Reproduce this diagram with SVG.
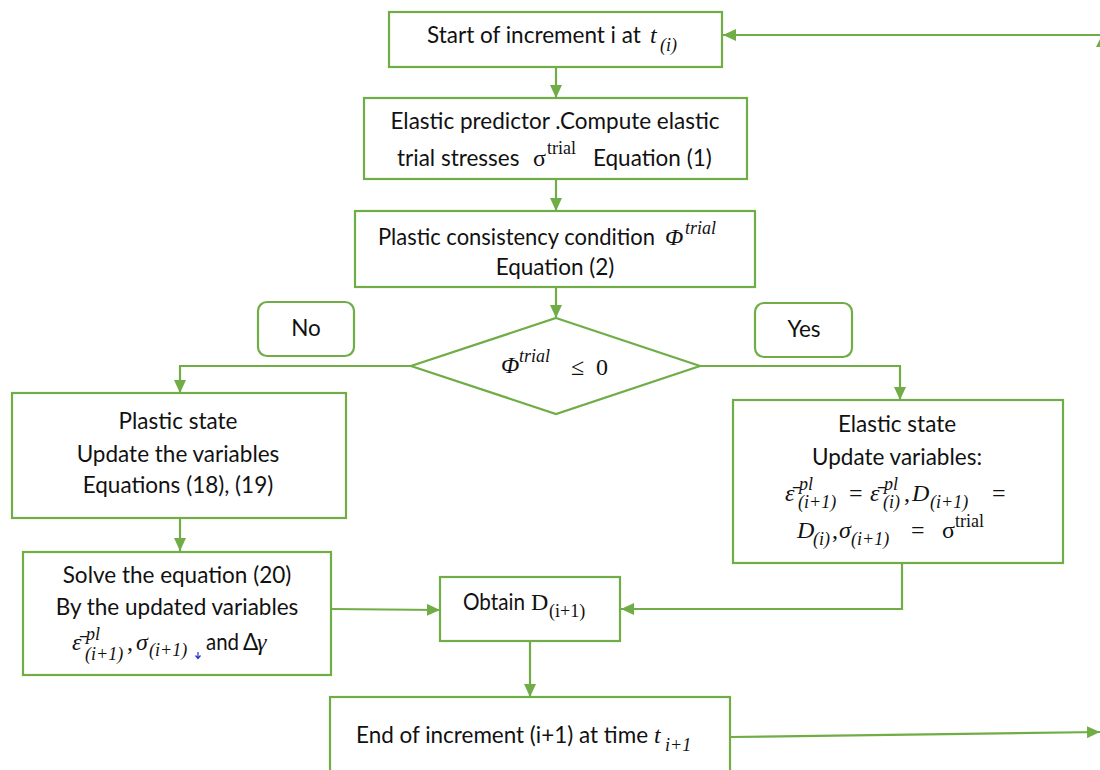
<svg xmlns="http://www.w3.org/2000/svg" width="1100" height="770" viewBox="0 0 1100 770">
  <style>
    .box { fill: #ffffff; stroke: #70AD47; stroke-width: 2.2; }
    .lbl { fill: #ffffff; stroke: #70AD47; stroke-width: 2.2; }
    .wire { fill: none; stroke: #70AD47; stroke-width: 2.2; }
    .t { font-family: Lato, "Liberation Sans", sans-serif; font-size: 22.5px; fill: #111111; }
    .tc { text-anchor: middle; }
    .m { font-family: "Liberation Serif", "DejaVu Serif", serif; fill: #111111; }
    .mi { font-style: italic; }
    .big { font-size: 24px; }
    .sm { font-size: 18px; }
  </style>
  <defs>
    <marker id="arrow" markerUnits="userSpaceOnUse" markerWidth="13" markerHeight="12" refX="13" refY="6" orient="auto">
      <path d="M0,0 L13,6 L0,12 z" fill="#70AD47"/>
    </marker>
  </defs>

  <rect width="1100" height="770" fill="#ffffff"/>

  <!-- connectors -->
  <g id="connectors">
    <path class="wire" d="M1100,35 L723,35" marker-end="url(#arrow)"/>
    <path class="wire" d="M556,67 L556,98" marker-end="url(#arrow)"/>
    <path class="wire" d="M556,179 L556,211" marker-end="url(#arrow)"/>
    <path class="wire" d="M556,287 L556,318" marker-end="url(#arrow)"/>
    <path class="wire" d="M411,366 L180,366 L180,393" marker-end="url(#arrow)"/>
    <path class="wire" d="M700,366 L900,366 L900,400" marker-end="url(#arrow)"/>
    <path class="wire" d="M180,519 L180,551" marker-end="url(#arrow)"/>
    <path class="wire" d="M331,609 L440,610" marker-end="url(#arrow)"/>
    <path class="wire" d="M902,563 L902,609 L621,609" marker-end="url(#arrow)"/>
    <path class="wire" d="M530,641 L530,697" marker-end="url(#arrow)"/>
    <path class="wire" d="M730,737 L1100,732" marker-end="url(#arrow)"/>
    <path d="M1096,47 L1100,39 L1100,47 z" fill="#70AD47"/>
  </g>

  <!-- start of increment -->
  <g id="start">
    <rect class="box" x="389" y="12" width="333" height="55"/>
    <text class="t" x="427" y="43">Start of increment i at</text>
    <text class="m mi big" x="650" y="43">t</text>
    <text class="m mi sm" x="660" y="51">(i)</text>
  </g>

  <!-- elastic predictor -->
  <g id="predictor">
    <rect class="box" x="364" y="98" width="383" height="81"/>
    <text class="t tc" x="555" y="129">Elastic predictor .Compute elastic</text>
    <text class="t" x="397" y="166">trial stresses</text>
    <text class="m big" x="533" y="166">σ</text>
    <text class="m sm" x="547" y="154">trial</text>
    <text class="t" x="593" y="166">Equation (1)</text>
  </g>

  <!-- consistency condition -->
  <g id="consistency">
    <rect class="box" x="355" y="211" width="400" height="76"/>
    <text class="t" x="378" y="245" textLength="277" lengthAdjust="spacingAndGlyphs">Plastic consistency condition</text>
    <text class="m mi big" x="665" y="245">Φ</text>
    <text class="m mi sm" x="685" y="234">trial</text>
    <text class="t tc" x="555" y="275">Equation (2)</text>
  </g>

  <!-- decision -->
  <g id="decision">
    <polygon class="box" points="556,318 700,366 556,414 411,366"/>
    <text class="m mi big" x="501" y="373">Φ</text>
    <text class="m mi sm" x="519" y="362">trial</text>
    <text class="m big" x="571" y="375">≤</text>
    <text class="m big" x="596" y="375">0</text>
  </g>

  <!-- branch labels -->
  <g id="label-no">
    <rect class="lbl" x="258" y="302" width="96" height="54" rx="9"/>
    <text class="t tc" x="306" y="336">No</text>
  </g>
  <g id="label-yes">
    <rect class="lbl" x="755" y="303" width="97" height="54" rx="9"/>
    <text class="t tc" x="804" y="337">Yes</text>
  </g>

  <!-- plastic state -->
  <g id="plastic">
    <rect class="box" x="12" y="393" width="334" height="125"/>
    <text class="t tc" x="178" y="429">Plastic state</text>
    <text class="t tc" x="178" y="462">Update the variables</text>
    <text class="t tc" x="178" y="493">Equations (18), (19)</text>
  </g>

  <!-- elastic state -->
  <g id="elastic">
    <rect class="box" x="733" y="400" width="330" height="163"/>
    <text class="t tc" x="897" y="432">Elastic state</text>
    <text class="t tc" x="897" y="465">Update variables:</text>
    <!-- first formula line -->
    <text class="m mi big" x="785" y="501">ε̄</text>
    <text class="m mi sm" x="799" y="490">pl</text>
    <text class="m mi sm" x="798" y="508">(i+1)</text>
    <text class="m big" x="849" y="501">=</text>
    <text class="m mi big" x="870" y="501">ε̄</text>
    <text class="m mi sm" x="884" y="490">pl</text>
    <text class="m mi sm" x="883" y="508">(i)</text>
    <text class="m big" x="904" y="501">,</text>
    <text class="m mi big" x="912" y="501">D</text>
    <text class="m mi sm" x="930" y="508">(i+1)</text>
    <text class="m big" x="992" y="501">=</text>
    <!-- second formula line -->
    <text class="m mi big" x="797" y="538">D</text>
    <text class="m mi sm" x="813" y="545">(i)</text>
    <text class="m big" x="832" y="538">,</text>
    <text class="m mi big" x="839" y="538">σ</text>
    <text class="m mi sm" x="851" y="545">(i+1)</text>
    <text class="m big" x="911" y="538">=</text>
    <text class="m big" x="942" y="538">σ</text>
    <text class="m sm" x="955" y="527">trial</text>
  </g>

  <!-- solve equation -->
  <g id="solve">
    <rect class="box" x="23" y="552" width="308" height="123"/>
    <text class="t tc" x="177" y="583">Solve the equation (20)</text>
    <text class="t tc" x="177" y="615">By the updated variables</text>
    <text class="m mi big" x="72" y="650">ε̄</text>
    <text class="m mi sm" x="86" y="640">pl</text>
    <text class="m mi sm" x="85" y="660">(i+1)</text>
    <text class="m big" x="127" y="650">,</text>
    <text class="m mi big" x="136" y="650">σ</text>
    <text class="m mi sm" x="149" y="656">(i+1)</text>
    <path d="M198,652 L198,658 M195.5,655.5 L198,658.5 L200.5,655.5" fill="none" stroke="#2233cc" stroke-width="1.2"/>
    <text class="t" x="206" y="650" textLength="33" lengthAdjust="spacingAndGlyphs">and</text>
    <text class="t" x="243" y="650">Δ</text>
    <text class="m mi big" x="257" y="650">γ</text>
  </g>

  <!-- obtain D -->
  <g id="obtain">
    <rect class="box" x="440" y="577" width="180" height="64"/>
    <text class="t" x="463" y="610" textLength="62" lengthAdjust="spacingAndGlyphs">Obtain</text>
    <text class="m big" x="531" y="610">D</text>
    <text class="m sm" x="549" y="617">(i+1)</text>
  </g>

  <!-- end of increment -->
  <g id="end">
    <rect class="box" x="330" y="697" width="400" height="90"/>
    <text class="t" x="356" y="743" textLength="292" lengthAdjust="spacingAndGlyphs">End of increment (i+1) at time</text>
    <text class="m mi big" x="654" y="743">t</text>
    <text class="m mi sm" x="665" y="751">i+1</text>
  </g>
</svg>
